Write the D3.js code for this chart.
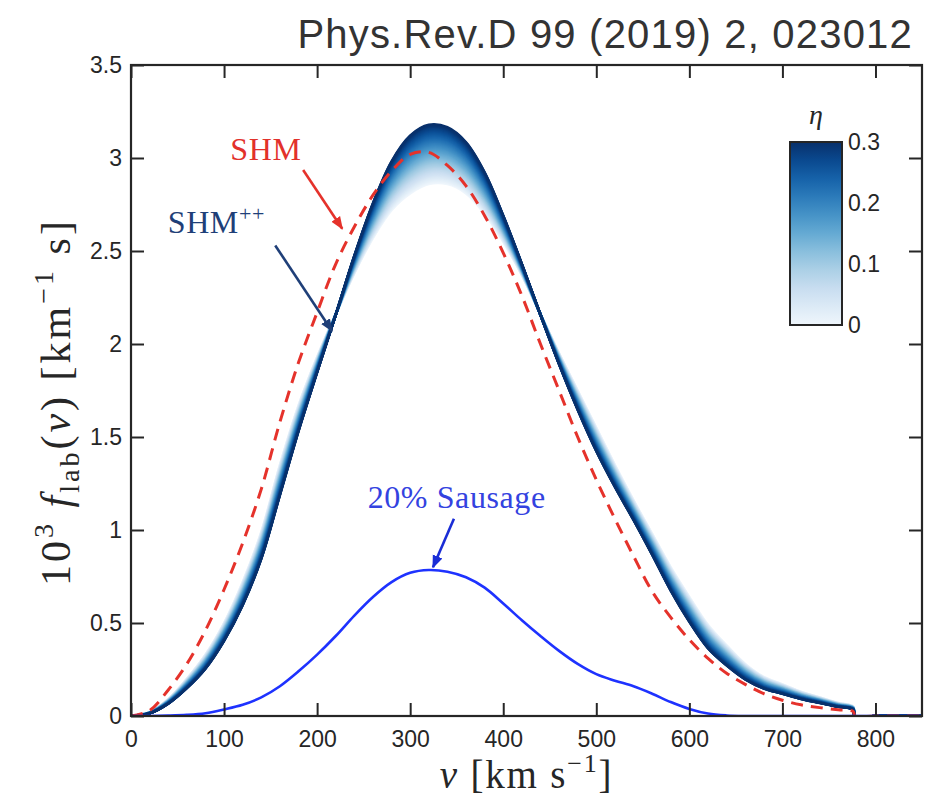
<!DOCTYPE html>
<html><head><meta charset="utf-8">
<script src="https://cdn.jsdelivr.net/npm/d3@7"></script>
<style>body{margin:0;background:#fff} svg{display:block}</style>
</head><body><svg id="c" width="933" height="799"></svg>
<script>
// ---- data ----
const velocity = [0,20,40,60,80,100,120,140,160,180,200,220,240,260,280,300,320,340,360,380,400,420,440,460,480,500,520,540,560,580,600,620,640,660,680,700,720,740,760,776,778,800,850];
const shm = [0,0.03,0.14,0.28,0.46,0.68,0.93,1.22,1.58,1.9,2.17,2.43,2.63,2.8,2.93,3.02,3.03,2.96,2.85,2.69,2.49,2.26,2.0,1.75,1.5,1.27,1.06,0.86,0.67,0.53,0.41,0.31,0.23,0.17,0.12,0.085,0.06,0.045,0.033,0.025,0,0,0];
const shmppRound = [0,0.02,0.09,0.2,0.33,0.5,0.72,0.99,1.35,1.67,1.93,2.16,2.38,2.57,2.72,2.81,2.86,2.86,2.81,2.7,2.55,2.37,2.16,1.95,1.75,1.55,1.35,1.16,0.98,0.8,0.64,0.49,0.38,0.28,0.21,0.17,0.13,0.1,0.07,0.05,0,0,0];
const sausage20 = [0,0,0.002,0.006,0.015,0.035,0.06,0.1,0.16,0.24,0.33,0.43,0.54,0.64,0.72,0.77,0.785,0.776,0.746,0.69,0.605,0.515,0.43,0.35,0.28,0.225,0.19,0.16,0.12,0.075,0.038,0.013,0.003,0,0,0,0,0,0,0,0,0,0];
const sausageShare = 0.2;            // "20% Sausage"
const etaMax = 0.3;
const xTicks = [0,100,200,300,400,500,600,700,800];
const yTicks = [0,0.5,1,1.5,2,2.5,3,3.5];
const etaTicks = [0,0.1,0.2,0.3];
const title = "Phys.Rev.D 99 (2019) 2, 023012";

// ---- layout ----
const svg = d3.select("#c");
const x = d3.scaleLinear().domain([0,850]).range([131,922]);
const y = d3.scaleLinear().domain([0,3.5]).range([716,65]);
const ink = "#262626";
const etaColor = e => d3.interpolateBlues(0.04 + 0.96*e/etaMax);

const defs = svg.append("defs");
defs.append("clipPath").attr("id","plot")
  .append("rect").attr("x",x(0)).attr("y",y(3.5)).attr("width",x(850)-x(0)).attr("height",y(0)-y(3.5));

const line = d3.line().x((d,i)=>x(velocity[i])).y(d=>y(d)).curve(d3.curveCatmullRom.alpha(0.5));
const g = svg.append("g").attr("clip-path","url(#plot)");

// SHM++ band: mixture of round halo and sausage for eta in [0, 0.3]
const etaSteps = d3.range(0, etaMax + 1e-9, 0.005);
etaSteps.forEach(e => {
  const vals = shmppRound.map((r,i) => (1-e)*r + e*sausage20[i]/sausageShare);
  g.append("path").attr("d", line(vals)).attr("fill","none")
    .attr("stroke", etaColor(e)).attr("stroke-width", e >= etaMax-1e-9 ? 2.2 : 2.6)
    .attr("stroke-linejoin","round");
});

// SHM dashed
g.append("path").attr("d", line(shm)).attr("fill","none")
  .attr("stroke","#e5322b").attr("stroke-width",3).attr("stroke-dasharray","12,8");
// 20% sausage
g.append("path").attr("d", line(sausage20)).attr("fill","none")
  .attr("stroke","#1e32ff").attr("stroke-width",2.6);

// ---- axes ----
const fontSans = "'Liberation Sans', Arial, Helvetica, sans-serif";
const fontSerif = "'Liberation Serif', 'Times New Roman', serif";
function styleAxis(sel){
  sel.select(".domain").remove();
  sel.selectAll("line").attr("stroke",ink).attr("stroke-width",2);
  sel.selectAll("text").attr("fill",ink).style("font-family",fontSans).style("font-size","23px");
}
svg.append("g").attr("transform",`translate(0,${y(0)})`)
  .call(d3.axisBottom(x).tickValues(xTicks).tickSize(-13).tickPadding(15).tickFormat(d3.format("d"))).call(styleAxis);
svg.append("g").attr("transform",`translate(0,${y(3.5)})`)
  .call(d3.axisTop(x).tickValues(xTicks).tickSize(-13).tickFormat("")).call(styleAxis);
svg.append("g").attr("transform",`translate(${x(0)},0)`)
  .call(d3.axisLeft(y).tickValues(yTicks).tickSize(-13).tickPadding(9).tickFormat(d=>String(d))).call(styleAxis);
svg.append("g").attr("transform",`translate(${x(850)},0)`)
  .call(d3.axisRight(y).tickValues(yTicks).tickSize(-13).tickFormat("")).call(styleAxis);
svg.append("rect").attr("x",x(0)).attr("y",y(3.5)).attr("width",x(850)-x(0)).attr("height",y(0)-y(3.5))
  .attr("fill","none").attr("stroke",ink).attr("stroke-width",2.2);

// ---- colorbar ----
const cb = d3.scaleLinear().domain([0,etaMax]).range([325,142]);
const grad = defs.append("linearGradient").attr("id","cbg")
  .attr("x1",0).attr("y1",1).attr("x2",0).attr("y2",0);
d3.range(0,1.0001,0.1).forEach(t => grad.append("stop").attr("offset",t).attr("stop-color",etaColor(t*etaMax)));
svg.append("rect").attr("x",790).attr("y",cb(etaMax)).attr("width",52).attr("height",cb(0)-cb(etaMax))
  .attr("fill","url(#cbg)").attr("stroke",ink).attr("stroke-width",2);
svg.append("g").attr("transform","translate(842,0)")
  .call(d3.axisRight(cb).tickValues(etaTicks).tickSize(0).tickPadding(6).tickFormat(d=>String(d))).call(styleAxis);
svg.append("text").attr("x",816).attr("y",124).attr("text-anchor","middle")
  .style("font-family",fontSerif).style("font-style","italic").style("font-size","28px").attr("fill",ink).text("η");

// ---- title ----
svg.append("text").attr("x",913).attr("y",48).attr("text-anchor","end")
  .style("font-family",fontSans).style("font-size","40px").style("letter-spacing","1.2px").attr("fill","#333").text(title);

// ---- axis labels ----
const xl = svg.append("text").attr("x",(x(0)+x(850))/2).attr("y",788).attr("text-anchor","middle")
  .style("font-family",fontSerif).style("font-size","39px").style("letter-spacing","1.8px").attr("fill",ink);
xl.append("tspan").style("font-style","italic").text("v");
xl.append("tspan").text(" [km s");
xl.append("tspan").attr("dy",-16).style("font-size","26px").text("−1");
xl.append("tspan").attr("dy",16).text("]");

const yl = svg.append("text").attr("transform",`translate(70,402) rotate(-90)`).attr("text-anchor","middle")
  .style("font-family",fontSerif).style("font-size","42px").style("letter-spacing","3px").attr("fill",ink);
yl.append("tspan").text("10");
yl.append("tspan").attr("dy",-17).style("font-size","28px").text("3");
yl.append("tspan").attr("dy",17).style("font-style","italic").text(" f");
yl.append("tspan").attr("dy",9).style("font-size","28px").text("lab");
yl.append("tspan").attr("dy",-9).text("(");
yl.append("tspan").style("font-style","italic").text("v");
yl.append("tspan").text(")  [km");
yl.append("tspan").attr("dy",-17).style("font-size","28px").text("−1");
yl.append("tspan").attr("dy",17).text(" s]");

// ---- annotations ----
function marker(id,color){
  defs.append("marker").attr("id",id).attr("viewBox","0 0 10 10").attr("refX",9).attr("refY",5)
    .attr("markerWidth",5).attr("markerHeight",5).attr("orient","auto").attr("markerUnits","strokeWidth")
    .append("path").attr("d","M0,1 L10,5 L0,9 Z").attr("fill",color);
}
marker("aRed","#e5322b"); marker("aNavy","#1f3f78"); marker("aBlue","#1a2dd6");
const notes = [
  {text:"SHM", sup:null, color:"#e2312b", tv:145, tf:2.99, anchor:"middle", arrow:"#e5322b", m:"aRed", a:[185,2.935,227,2.62]},
  {text:"SHM", sup:"++", color:"#1f3f78", tv:39.5, tf:2.595, anchor:"start", arrow:"#1f3f78", m:"aNavy", a:[155,2.53,216,2.07]},
  {text:"20% Sausage", sup:null, color:"#3342e0", tv:350, tf:1.12, anchor:"middle", arrow:"#1a2dd6", m:"aBlue", a:[347,1.06,324.5,0.80]}
];
notes.forEach(n => {
  const t = svg.append("text").attr("x",x(n.tv)).attr("y",y(n.tf)).attr("text-anchor",n.anchor)
    .style("font-family",fontSerif).style("font-size","32px").style("letter-spacing","0.6px").attr("fill",n.color).text(n.text);
  if(n.sup) t.append("tspan").attr("dy",-12).style("font-size","22px").text(n.sup);
  svg.append("line").attr("x1",x(n.a[0])).attr("y1",y(n.a[1])).attr("x2",x(n.a[2])).attr("y2",y(n.a[3]))
    .attr("stroke",n.arrow).attr("stroke-width",2.6).attr("marker-end",`url(#${n.m})`);
});
</script></body></html>
